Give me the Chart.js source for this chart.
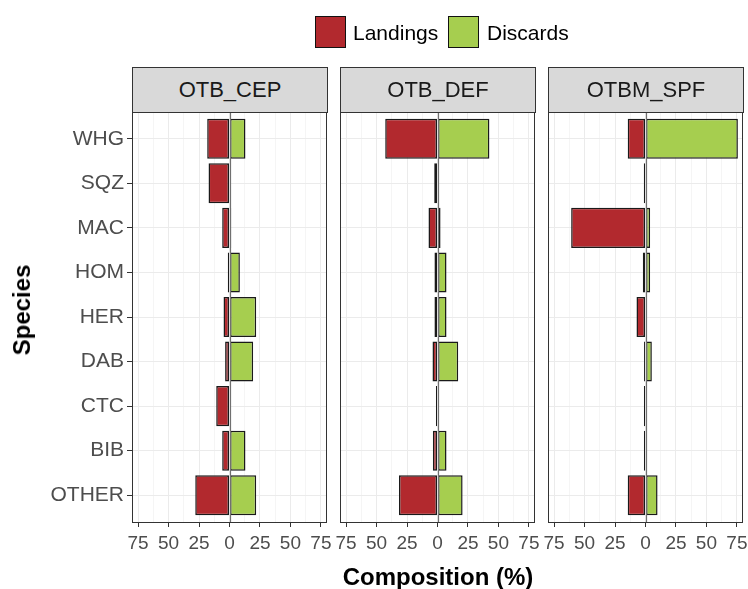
<!DOCTYPE html>
<html><head><meta charset="utf-8">
<script src="https://cdn.jsdelivr.net/npm/chart.js@4/dist/chart.umd.min.js"></script>
<style>
body{margin:0;background:#fff;width:748px;height:589px;overflow:hidden;position:relative;font-family:"Liberation Sans",Arial,sans-serif;}
canvas{position:absolute;left:0;top:0;}
.strip{position:absolute;top:67px;height:46px;width:196px;box-sizing:border-box;background:#D9D9D9;border:1px solid #333;font-size:22px;color:#1A1A1A;display:flex;align-items:center;justify-content:center;}
.key{position:absolute;top:16px;width:31px;height:32px;box-sizing:border-box;border:1.5px solid #111;}
.ktxt{position:absolute;top:33px;transform:translateY(-50%);font-size:21px;color:#000;white-space:nowrap;}
.title{position:absolute;font-size:24px;font-weight:bold;color:#000;white-space:nowrap;}
</style>
</head><body>
<canvas id="c0" width="748" height="589"></canvas>
<canvas id="c1" width="748" height="589"></canvas>
<canvas id="c2" width="748" height="589"></canvas>
<div id="strips"></div>
<div class="key" style="left:315px;background:#B2292E"></div>
<div class="ktxt" style="left:353px">Landings</div>
<div class="key" style="left:448px;background:#A6CE4F"></div>
<div class="ktxt" style="left:487px">Discards</div>
<div class="title" style="left:22px;top:310px;transform:translate(-50%,-50%) rotate(-90deg)">Species</div>
<div class="title" style="left:438px;top:577px;transform:translate(-50%,-50%)">Composition (%)</div>
<script>
const species = ['WHG','SQZ','MAC','HOM','HER','DAB','CTC','BIB','OTHER'];
const gears = ['OTB_CEP','OTB_DEF','OTBM_SPF'];
const landingsOTB_CEP  = [18.3, 17.2, 6.0, 1.4, 4.9, 3.6, 10.9, 6.0, 28.1];
const discardsOTB_CEP  = [13.1, 0,    1.4, 8.5, 21.9, 19.4, 0,   13.1, 21.9];
const landingsOTB_DEF  = [42.9, 2.7,  7.4, 2.5, 2.5, 4.1, 1.3,  3.8, 31.6];
const discardsOTB_DEF  = [42.6, 0,    2.5, 7.4, 7.4, 17.0, 0,   7.4, 20.6];
const landingsOTBM_SPF = [14.6, 1.4, 61.0, 2.2, 7.4, 1.2, 1.3,  1.3, 14.6];
const discardsOTBM_SPF = [75.8, 0,    3.8, 3.8, 0,   5.2, 0,    0,   9.9];
const majorTicks = [-75,-50,-25,0,25,50,75];
const minorTicks = [-62.5,-37.5,-12.5,12.5,37.5,62.5];

const landings = [landingsOTB_CEP, landingsOTB_DEF, landingsOTBM_SPF];
const discards = [discardsOTB_CEP, discardsOTB_DEF, discardsOTBM_SPF];

const panelLeft = [132, 340, 548];
const panelWidth = 195;
const plotTop = 112, plotBottom = 522, W = 748, H = 589, xAxisH = 40;

const isMinor = v => minorTicks.includes(v);

const decor = {
  id: 'decor',
  afterDatasetsDraw(chart) {
    const {ctx, chartArea: a, scales} = chart;
    ctx.save();
    const x0 = Math.round(scales.x.getPixelForValue(0)) + 0.5;
    ctx.strokeStyle = '#707070';
    ctx.lineWidth = 1.2;
    ctx.beginPath(); ctx.moveTo(x0, a.top); ctx.lineTo(x0, a.bottom); ctx.stroke();
    ctx.lineWidth = 1;
    ctx.strokeStyle = '#333';
    ctx.strokeRect(a.left + 0.5, a.top + 0.5, a.right - a.left - 1, a.bottom - a.top);
    ctx.restore();
  }
};

const stripHost = document.getElementById('strips');
gears.forEach((g, p) => {
  const d = document.createElement('div');
  d.className = 'strip';
  d.style.left = panelLeft[p] + 'px';
  d.textContent = g;
  stripHost.appendChild(d);

  const first = p === 0;
  new Chart(document.getElementById('c' + p), {
    type: 'bar',
    data: {
      datasets: [
        { label: 'Landings', data: landings[p].map((v, i) => ({x: -v, y: i + 1})),
          backgroundColor: '#B2292E', borderColor: '#1A1A1A', borderWidth: 1.5, borderSkipped: false },
        { label: 'Discards', data: discards[p].map((v, i) => ({x: v, y: i + 1})),
          backgroundColor: '#A6CE4F', borderColor: '#1A1A1A', borderWidth: 1.5, borderSkipped: false }
      ]
    },
    options: {
      indexAxis: 'y',
      responsive: false,
      animation: false,
      grouped: false,
      barPercentage: 0.9,
      categoryPercentage: 1.0,
      layout: { padding: { left: first ? 0 : panelLeft[p], right: W - panelLeft[p] - panelWidth, top: plotTop, bottom: H - plotBottom - xAxisH } },
      plugins: { legend: { display: false }, tooltip: { enabled: false } },
      scales: {
        x: {
          type: 'linear', min: -80, max: 80,
          afterBuildTicks: s => { s.ticks = majorTicks.concat(minorTicks).sort((a, b) => a - b).map(v => ({value: v})); },
          afterFit: s => { s.height = xAxisH; s.paddingLeft = 0; s.paddingRight = 0; },
          border: { display: false },
          grid: {
            color: '#EBEBEB',
            lineWidth: c => (c.tick && isMinor(c.tick.value)) ? 0.5 : 1,
            tickColor: c => (c.tick && isMinor(c.tick.value)) ? 'rgba(0,0,0,0)' : '#333',
            tickWidth: 1,
            tickLength: 5
          },
          ticks: {
            autoSkip: false, maxRotation: 0, minRotation: 0, padding: 5,
            color: '#4D4D4D', font: { size: 19, family: '"Liberation Sans", Arial, sans-serif' },
            callback: v => isMinor(v) ? '' : String(Math.abs(v))
          }
        },
        y: {
          type: 'linear', min: 0.4, max: 9.6, reverse: true, offset: false,
          afterBuildTicks: s => { s.ticks = species.map((n, i) => ({value: i + 1})); },
          afterFit: s => { s.width = first ? panelLeft[0] : 0; s.paddingTop = 0; s.paddingBottom = 0; },
          border: { display: false },
          grid: { offset: false, color: '#EBEBEB', lineWidth: 1, tickColor: '#333', tickLength: 5, drawTicks: first },
          ticks: {
            display: first, padding: 3, autoSkip: false,
            color: '#4D4D4D', font: { size: 21, family: '"Liberation Sans", Arial, sans-serif' },
            callback: v => species[Math.round(v) - 1]
          }
        }
      }
    },
    plugins: [decor]
  });
});
</script>
</body></html>
